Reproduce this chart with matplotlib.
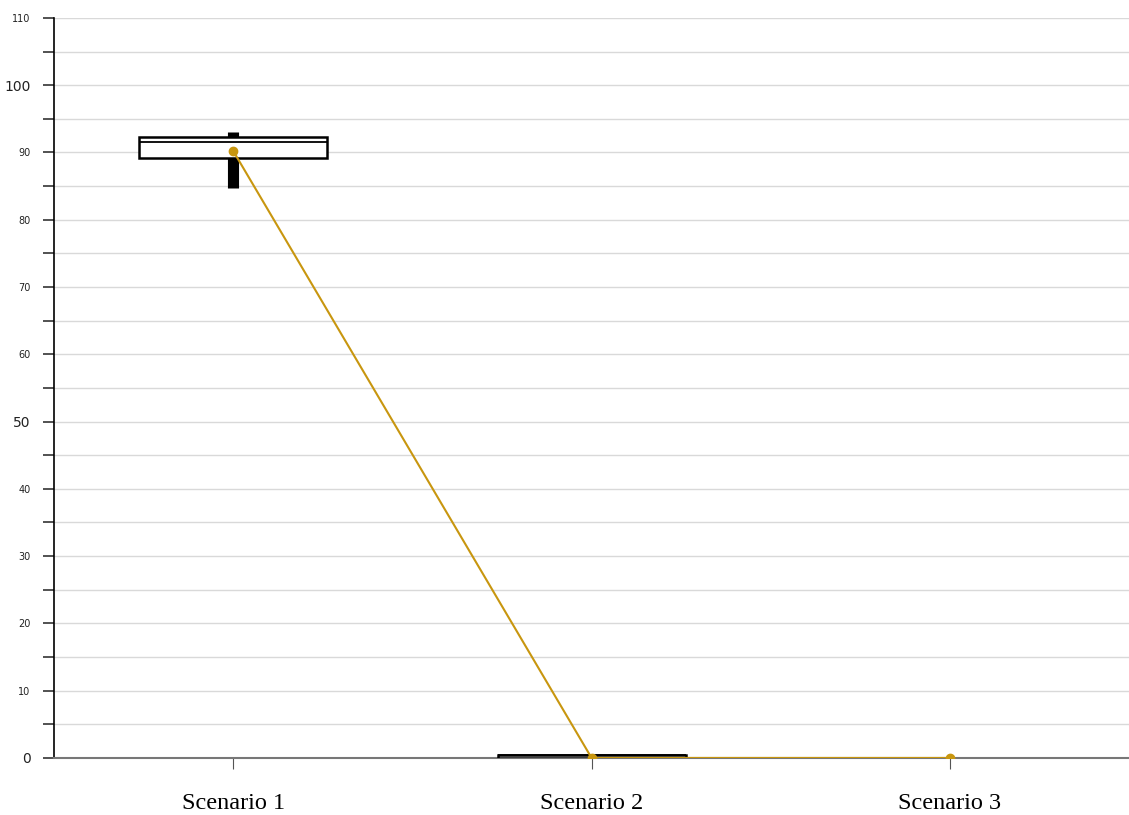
import numpy as np
import matplotlib.pyplot as plt

scenarios = ['Scenario 1', 'Scenario 2', 'Scenario 3']
q1 = [89.2, 0.0]
med = [91.5, 0.4]
q3 = [92.3, 0.4]
whis_lo = [84.7, 0.0]
whis_hi = [93.1, 0.4]
means = [90.2, 0.0, 0.0]

line_col = '#c8960f'

fig = plt.figure(figsize=(11.29, 8.15), dpi=100)
ax = fig.add_axes([0.048, 0.07, 0.952, 0.908])

# boxes for the two scenarios that have a spread
stats = []
for i in range(2):
    stats.append({'q1': q1[i], 'med': med[i], 'q3': q3[i],
                  'whislo': whis_lo[i], 'whishi': whis_hi[i], 'fliers': []})
parts = ax.bxp(stats, positions=[0, 1], widths=0.525, patch_artist=True,
               showcaps=False, showfliers=False,
               boxprops=dict(facecolor='white', edgecolor='black', linewidth=1.8),
               medianprops=dict(color='black', linewidth=1.3),
               whiskerprops=dict(color='black', linewidth=8, solid_capstyle='butt'))
for b in parts['boxes']:
    b.set_zorder(3)
for m in parts['medians']:
    m.set_zorder(4)
for w in parts['whiskers']:
    w.set_zorder(2)

# line through the means
ax.plot(range(len(scenarios)), means, color=line_col, linewidth=1.5,
        marker='o', markersize=6, zorder=5)

ax.set_xlim(-0.5, 2.5)
ax.set_ylim(0, 110)
ax.set_xticks(range(len(scenarios)))
ax.set_xticklabels(scenarios, family='Liberation Serif', fontsize=17.5)
ax.tick_params(axis='x', length=8, color='#555555', pad=17)

yt = np.arange(0, 111, 5)
ax.set_yticks(yt)
ax.set_yticklabels([str(v) if v % 10 == 0 else '' for v in yt])
for lab, v in zip(ax.get_yticklabels(), yt):
    lab.set_fontsize(10 if v in (0, 50, 100) else 7)
    lab.set_color('#222222')
ax.tick_params(axis='y', length=8, width=1.2, pad=9, color='#333333')

ax.grid(axis='y', color='#d9d9d9', linewidth=1)
ax.set_axisbelow(True)
for s in ['top', 'right']:
    ax.spines[s].set_visible(False)
ax.spines['bottom'].set_color('#777777')
ax.spines['bottom'].set_linewidth(1.5)
ax.spines['left'].set_linewidth(1.2)

fig.savefig('out.png', dpi=100)
